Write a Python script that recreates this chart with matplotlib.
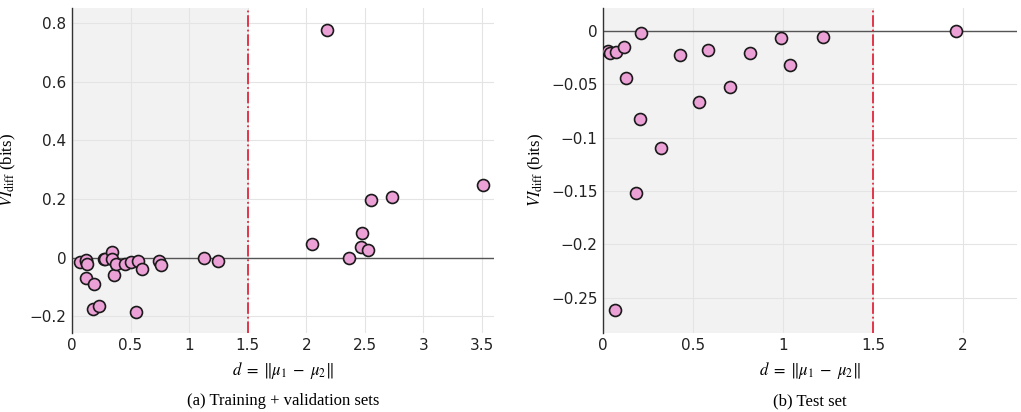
import numpy as np
import matplotlib
matplotlib.use("Agg")
import matplotlib.pyplot as plt
from matplotlib.ticker import FuncFormatter

plt.rcParams['mathtext.fontset'] = 'stix'

# (a) training + validation sets
train_d = [0.07, 0.12, 0.12, 0.13, 0.12, 0.19, 0.18, 0.23, 0.27, 0.28, 0.34, 0.34,
           0.36, 0.38, 0.45, 0.50, 0.56, 0.60, 0.55, 0.74, 0.76, 1.125, 1.25,
           2.05, 2.18, 2.365, 2.48, 2.47, 2.53, 2.55, 2.73, 3.51]
train_vi = [-0.014, -0.01, -0.006, -0.022, -0.07, -0.088, -0.174, -0.164, -0.005, -0.005,
            0.019, -0.005, -0.059, -0.022, -0.022, -0.016, -0.011, -0.038, -0.184,
            -0.012, -0.026, 0.0, -0.011, 0.047, 0.777, 0.0, 0.085, 0.037, 0.027,
            0.197, 0.208, 0.249]

# (b) test set
test_d = [0.028, 0.041, 0.07, 0.115, 0.126, 0.213, 0.208, 0.185, 0.324, 0.426, 0.533,
          0.583, 0.704, 0.815, 0.987, 1.041, 1.222, 1.963, 0.069]
test_vi = [-0.0188, -0.0203, -0.0194, -0.0153, -0.0444, -0.0022, -0.0825, -0.152, -0.11,
           -0.023, -0.0666, -0.0178, -0.0525, -0.021, -0.0066, -0.0319, -0.006, 0.0,
           -0.262]

threshold = 1.5


def fmt(v, pos):
    s = '%g' % round(v, 4)
    return s.replace('-', '\u2212')


def draw_panel(ax, d, vi, xlim, ylim, yticks, caption):
    ax.axvspan(0, threshold, color='#f2f2f2', zorder=0, lw=0)
    ax.set_xlim(*xlim)
    ax.set_ylim(*ylim)
    ax.set_xticks(np.arange(0, xlim[1] + 0.01, 0.5))
    ax.set_yticks(yticks)
    ax.xaxis.set_major_formatter(FuncFormatter(fmt))
    ax.yaxis.set_major_formatter(FuncFormatter(fmt))
    ax.grid(True, color='#e4e4e4', lw=0.8, zorder=0.5)
    ax.set_axisbelow(True)
    ax.axhline(0, color='#555555', lw=1.0, zorder=1)
    ax.axvline(threshold, color='#e0283c', lw=1.3, ls='-.', zorder=2)
    ax.plot(d, vi, 'o', ms=8.6, mfc='#eba0d6', mec='#1a1a1a', mew=1.2, zorder=3)
    for side in ['top', 'right', 'bottom']:
        ax.spines[side].set_visible(False)
    ax.spines['left'].set_color('#333333')
    ax.spines['left'].set_linewidth(1.0)
    ax.tick_params(length=0, labelsize=11, pad=4, labelcolor='#222222')
    ax.set_ylabel(r'$VI_{\mathrm{diff}}$ (bits)', family='Liberation Serif', fontsize=12)
    ax.set_xlabel(r'$d\;=\;\|\mu_1\;-\;\mu_2\|$', family='Liberation Serif', fontsize=12,
                  labelpad=5)
    ax.text(0.5, -0.21, caption, transform=ax.transAxes, ha='center', va='center',
            family='Liberation Serif', fontsize=12)


fig = plt.figure(figsize=(10.21, 4.12), dpi=100)
ax1 = fig.add_axes([0.0705, 0.192, 0.413, 0.789])
ax2 = fig.add_axes([0.5906, 0.192, 0.4055, 0.789])

draw_panel(ax1, train_d, train_vi, (0, 3.6), (-0.256, 0.852),
           [-0.2, 0, 0.2, 0.4, 0.6, 0.8], '(a) Training + validation sets')
draw_panel(ax2, test_d, test_vi, (0, 2.3), (-0.283, 0.0216),
           [-0.25, -0.2, -0.15, -0.1, -0.05, 0], '(b) Test set')

ax1.yaxis.set_label_coords(-0.128, 0.5)
ax2.yaxis.set_label_coords(-0.138, 0.5)

fig.savefig('out.png', dpi=100)
